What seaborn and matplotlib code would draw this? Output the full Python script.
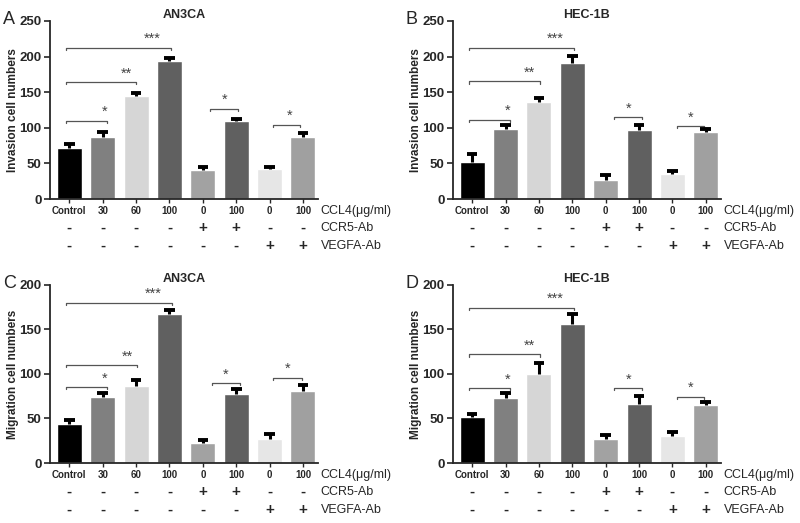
import numpy as np
import pandas as pd
import seaborn as sns
import matplotlib.pyplot as plt
from matplotlib.transforms import blended_transform_factory

# groups along the x axis
doses = ['Control', '30', '60', '100', '0', '100', '0', '100']
ccr5 = ['-', '-', '-', '-', '+', '+', '-', '-']
vegfa = ['-', '-', '-', '-', '-', '-', '+', '+']
bar_colors = ['#000000', '#808080', '#d6d6d6', '#606060',
              '#a2a2a2', '#606060', '#e6e6e6', '#a0a0a0']

# brackets: (x from, x to, height, star x, label)
# A: AN3CA invasion
inv_an3ca = [72, 87, 144, 194, 41, 110, 42, 87]
inv_an3ca_err = [5, 7, 5.5, 3.5, 3.5, 3, 2.5, 6]
inv_an3ca_sig = [(-0.1, 1.12, 110, 1.07, '*'), (-0.1, 2.0, 164, 1.72, '**'),
                 (-0.1, 3.05, 212, 2.47, '***'), (4.22, 5.04, 127, 4.64, '*'),
                 (6.1, 6.92, 104, 6.6, '*')]

# B: HEC-1B invasion
inv_hec = [52, 98, 136, 191, 27, 97, 35, 94]
inv_hec_err = [11, 5.5, 5.5, 10, 7, 6.5, 5, 4]
inv_hec_sig = [(-0.1, 1.13, 111, 1.07, '*'), (-0.1, 2.03, 165, 1.73, '**'),
               (-0.1, 3.06, 212, 2.48, '***'), (4.26, 5.08, 115, 4.68, '*'),
               (6.13, 6.96, 102, 6.55, '*')]

# C: AN3CA migration
mig_an3ca = [44, 74, 87, 167, 22, 77, 27, 81]
mig_an3ca_err = [4, 5, 6, 5, 3.5, 6, 6, 7]
mig_an3ca_sig = [(-0.1, 1.13, 85, 1.07, '*'), (-0.1, 2.03, 110, 1.74, '**'),
                 (-0.1, 3.07, 180, 2.5, '***'), (4.27, 5.1, 89.5, 4.69, '*'),
                 (6.1, 6.97, 96, 6.54, '*')]

# D: HEC-1B migration
mig_hec = [52, 73, 100, 156, 27, 66, 30, 65]
mig_hec_err = [3, 5.5, 12, 11, 5, 9.5, 5, 3.5]
mig_hec_sig = [(-0.1, 1.13, 84, 1.06, '*'), (-0.1, 2.03, 122, 1.73, '**'),
               (-0.1, 3.06, 174.5, 2.48, '***'), (4.26, 5.08, 84, 4.68, '*'),
               (6.13, 6.96, 74.5, 6.55, '*')]


def draw_panel(ax, values, errors, sig, ymax, ylabel, title, letter):
    df = pd.DataFrame({'group': range(len(values)), 'value': values})
    sns.barplot(data=df, x='group', y='value', hue='group', palette=bar_colors,
                legend=False, width=0.75, saturation=1, ax=ax)

    # upper-only error bars with caps
    xs = np.arange(len(values))
    tops = np.array(values) + np.array(errors)
    ax.vlines(xs, values, tops, colors='black', lw=2.2, zorder=3)
    ax.hlines(tops, xs - 0.16, xs + 0.16, colors='black', lw=2.8, zorder=3)

    # significance brackets
    tip = ymax * 0.012
    for x0, x1, y, sx, stars in sig:
        ax.plot([x0, x0, x1, x1], [y - tip, y, y, y - tip],
                color='#555555', lw=0.9)
        ax.text(sx, y + ymax * 0.01, stars, ha='center', va='bottom',
                fontsize=10.5, color='#444444')

    ax.set_xlim(-0.58, 7.45)
    ax.set_ylim(0, ymax)
    ax.set_yticks(np.arange(0, ymax + 1, 50))
    ax.set_xticks(xs)
    ax.set_xticklabels([])
    ax.tick_params(axis='x', length=3, width=1)
    ax.tick_params(axis='y', length=4, width=1.2, labelsize=9.5, pad=2)
    for lab in ax.get_yticklabels():
        lab.set_fontweight('bold')
    ax.set_xlabel('')
    ax.set_ylabel(ylabel, fontsize=8.5, fontweight='bold', labelpad=0.5)
    ax.set_title(title, fontsize=9, fontweight='bold', pad=2)
    sns.despine(ax=ax)
    ax.spines['left'].set_linewidth(1.3)
    ax.spines['bottom'].set_linewidth(1.3)

    trans = blended_transform_factory(ax.transData, ax.transAxes)
    for i in range(len(doses)):
        ax.text(i, -0.066, doses[i], transform=trans, ha='center', va='center',
                fontsize=7, fontweight='bold')
        ax.text(i, -0.163, ccr5[i], transform=trans, ha='center', va='center',
                fontsize=11, fontweight='bold')
        ax.text(i, -0.265, vegfa[i], transform=trans, ha='center', va='center',
                fontsize=11, fontweight='bold')
    ax.text(1.01, -0.066, 'CCL4(μg/ml)', transform=ax.transAxes, ha='left',
            va='center', fontsize=9)
    ax.text(1.01, -0.163, 'CCR5-Ab', transform=ax.transAxes, ha='left',
            va='center', fontsize=9)
    ax.text(1.01, -0.265, 'VEGFA-Ab', transform=ax.transAxes, ha='left',
            va='center', fontsize=9)

    pos = ax.get_position()
    ax.figure.text(pos.x0 - 0.059, pos.y1 + 0.002, letter, fontsize=13,
                   ha='left', va='center')


sns.set_style('ticks')
plt.rcParams['font.family'] = ['Liberation Sans', 'DejaVu Sans']

fig = plt.figure(figsize=(8, 5.23), dpi=100)
ax_a = fig.add_axes([0.0625, 0.6195, 0.335, 0.3405])
ax_b = fig.add_axes([0.566, 0.6195, 0.335, 0.3405])
ax_c = fig.add_axes([0.0625, 0.1147, 0.335, 0.3405])
ax_d = fig.add_axes([0.566, 0.1147, 0.335, 0.3405])

draw_panel(ax_a, inv_an3ca, inv_an3ca_err, inv_an3ca_sig, 250,
           'Invasion cell numbers', 'AN3CA', 'A')
draw_panel(ax_b, inv_hec, inv_hec_err, inv_hec_sig, 250,
           'Invasion cell numbers', 'HEC-1B', 'B')
draw_panel(ax_c, mig_an3ca, mig_an3ca_err, mig_an3ca_sig, 200,
           'Migration cell numbers', 'AN3CA', 'C')
draw_panel(ax_d, mig_hec, mig_hec_err, mig_hec_sig, 200,
           'Migration cell numbers', 'HEC-1B', 'D')

fig.savefig('out.png', dpi=100)
